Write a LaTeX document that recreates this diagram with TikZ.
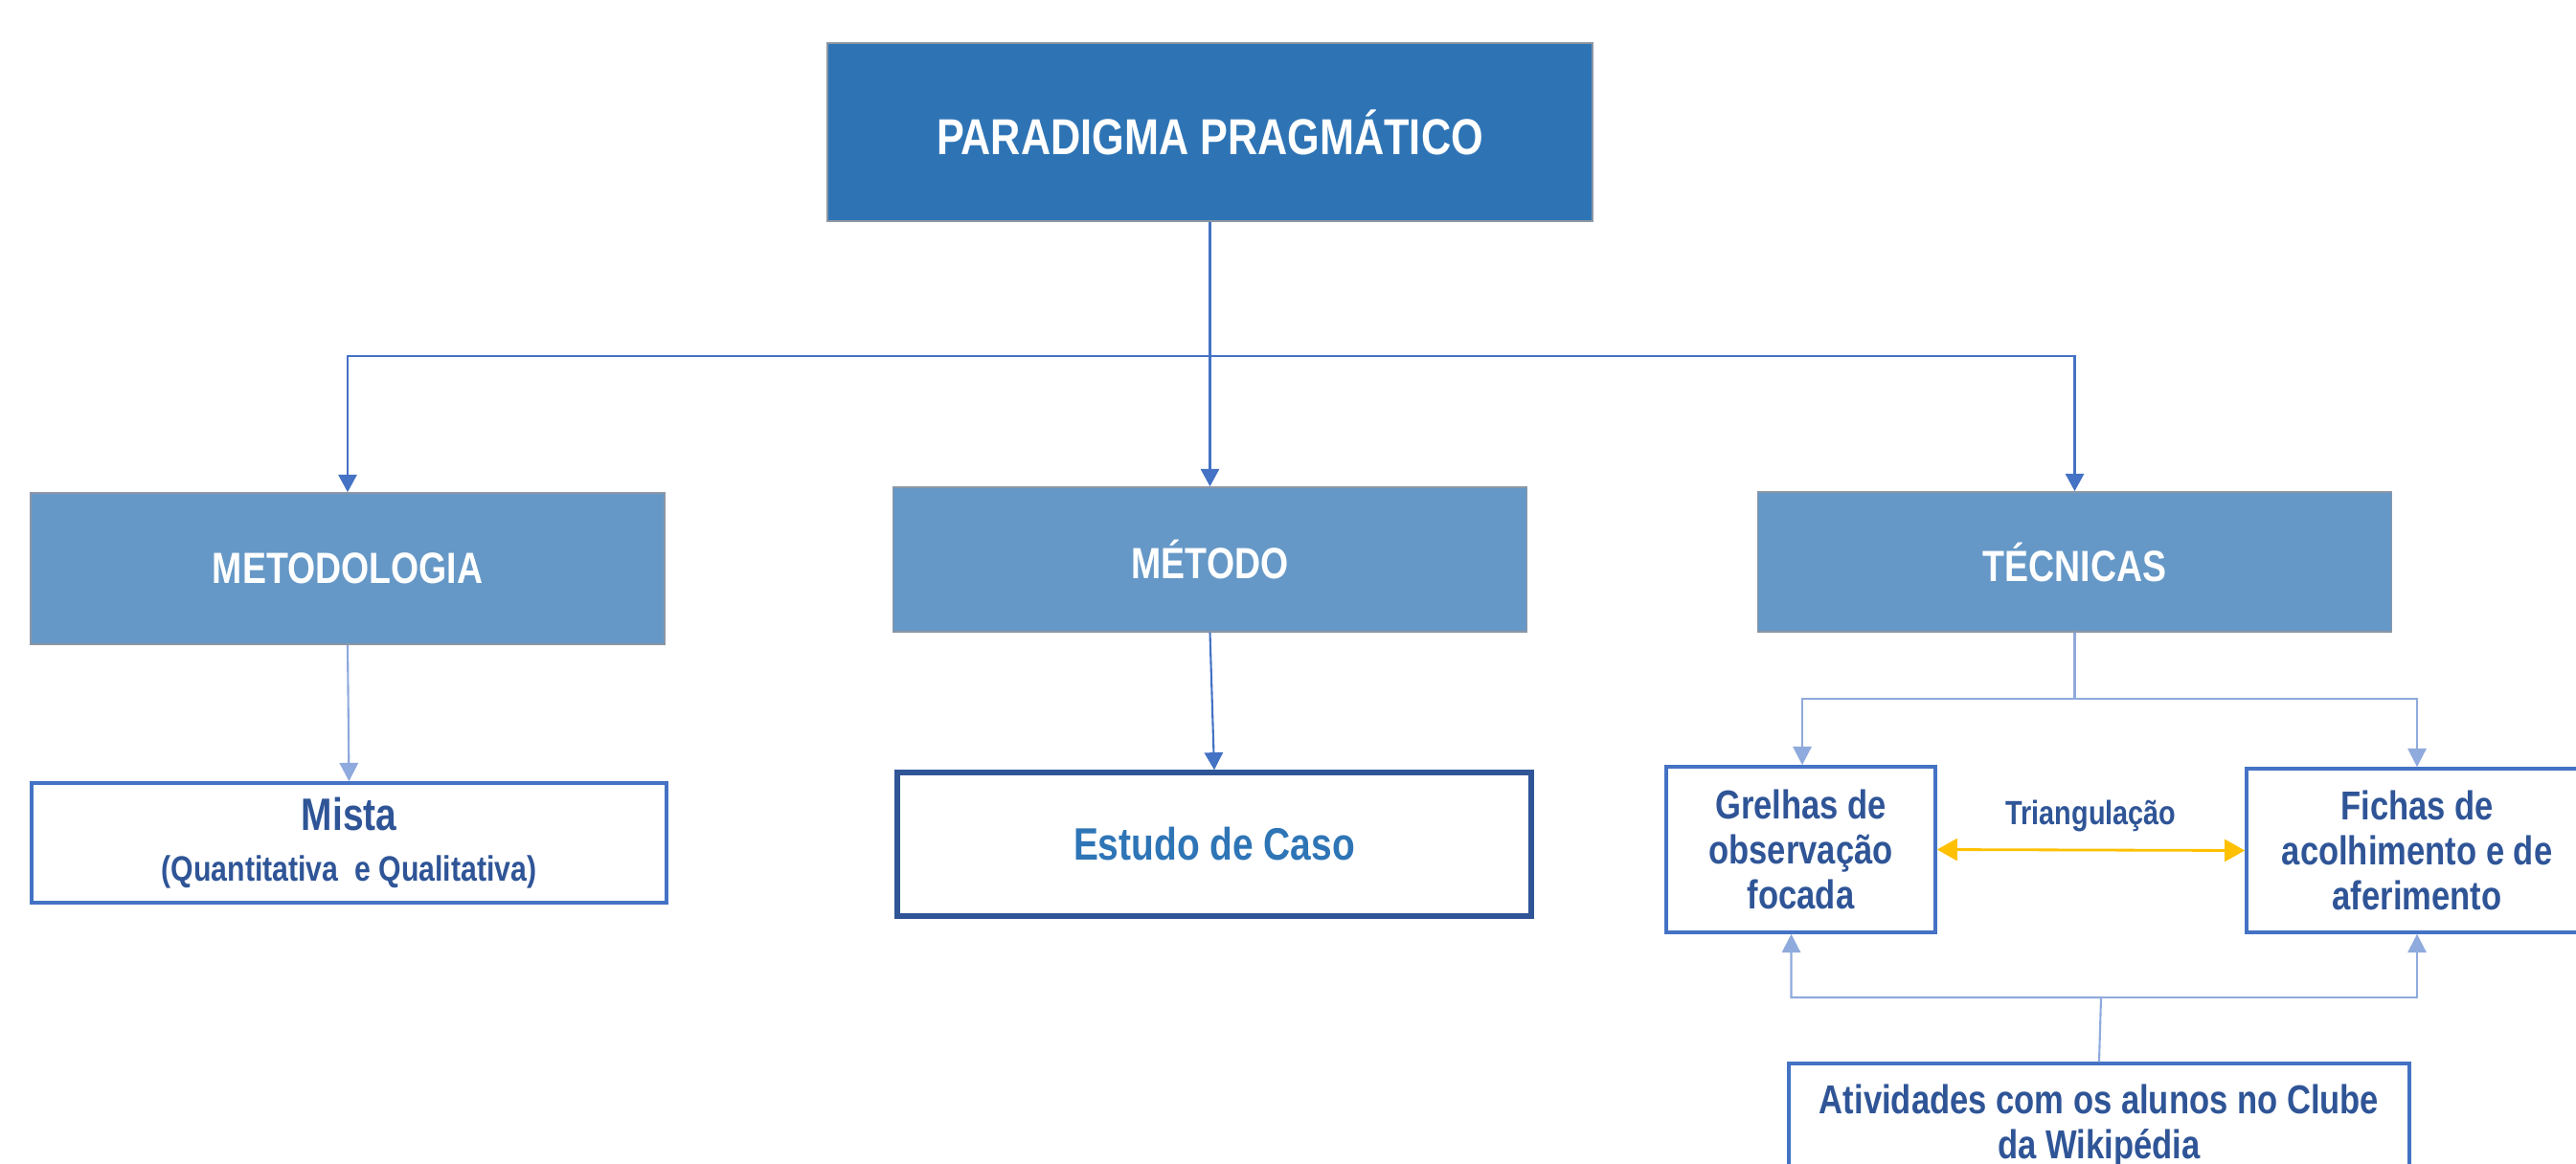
\documentclass[tikz,border=0pt]{standalone}
\usepackage{fontspec}
\setmainfont{Liberation Sans}[FakeStretch=0.82]
\usetikzlibrary{arrows.meta}
\definecolor{topblue}{RGB}{46,116,181}
\definecolor{midblue}{RGB}{101,152,199}
\definecolor{boxline}{RGB}{68,114,196}
\definecolor{darkline}{RGB}{47,85,151}
\definecolor{textblue}{RGB}{47,85,151}
\definecolor{casoblue}{RGB}{46,117,182}
\definecolor{lightline}{RGB}{143,170,220}
\definecolor{gold}{RGB}{255,192,0}
\definecolor{edgegrey}{RGB}{140,150,165}

\begin{document}
\begin{tikzpicture}[
	headbox/.style={draw=edgegrey, line width=0.5pt, fill=topblue, text=white, inner sep=0pt,
		font=\fontsize{15}{18}\selectfont\bfseries},
	levelbox/.style={draw=edgegrey, line width=0.5pt, fill=midblue, text=white, inner sep=0pt,
		minimum width=6.62cm, font=\fontsize{13}{16}\selectfont\bfseries},
	leafbox/.style={draw=boxline, line width=1pt, fill=white, text=textblue, align=center, inner sep=0pt,
		font=\fontsize{12}{13.4}\selectfont\bfseries},
	link/.style={draw=boxline, line width=0.6pt, -{Triangle[width=5.5pt,length=5.2pt]}},
	lightlink/.style={draw=lightline, line width=0.6pt, -{Triangle[width=5.5pt,length=5.5pt]}},
	triarrow/.style={draw=gold, line width=0.8pt, {Triangle[width=6.5pt,length=6pt]}-{Triangle[width=6.5pt,length=6pt]}}
	]
	%%%%% START %%%%%
	\useasboundingbox (0,0) rectangle (26.9,-12.15);
	
	\node[headbox, minimum width=7.99cm, minimum height=1.86cm] (paradigma) at (12.635, -1.38) {PARADIGMA PRAGMÁTICO};
	
	\node[levelbox, minimum height=1.58cm] (metodologia) at (3.63, -5.94) {METODOLOGIA};
	\node[levelbox, minimum height=1.51cm] (metodo) at (12.635, -5.845) {MÉTODO};
	\node[levelbox, minimum height=1.46cm] (tecnicas) at (21.665, -5.87) {TÉCNICAS};
	
	\node[leafbox, minimum width=6.63cm, minimum height=1.25cm] (mista) at (3.645, -8.805)
		{{\fontsize{13.5}{15}\selectfont Mista}\\[1.5pt]{\fontsize{10.5}{13}\selectfont (Quantitativa\ \ e Qualitativa)}};
	\node[leafbox, draw=darkline, line width=1.5pt, text=casoblue, minimum width=6.62cm, minimum height=1.5cm,
		font=\fontsize{13.5}{16}\selectfont\bfseries] (estudo) at (12.68, -8.82) {Estudo de Caso};
	
	\node[leafbox, minimum width=2.81cm, minimum height=1.73cm] (grelhas) at (18.805, -8.875)
		{Grelhas de\\observação\\focada};
	\node[leafbox, minimum width=3.56cm, minimum height=1.71cm] (fichas) at (25.24, -8.885)
		{Fichas de\\acolhimento e de\\aferimento};
	\node[leafbox, minimum width=6.48cm, minimum height=1.3cm] (atividades) at (21.92, -11.76)
		{Atividades com os alunos no Clube\\da Wikipédia};
	
	% connectors
	\coordinate (split) at (12.635, -3.72);
	\draw[link] (paradigma.south) -- (split) -| (metodologia.north);
	\draw[link] (split) -- (metodo.north);
	\draw[link] (split) -| (tecnicas.north);
	
	\draw[lightlink] (metodologia.south) -- (mista.north);
	\draw[link] (metodo.south) -- (estudo.north);
	
	\coordinate (tsplit) at (21.665, -7.30);
	\draw[lightlink] (tecnicas.south) -- (tsplit) -| ([xshift=0.15mm]grelhas.north);
	\draw[lightlink] (tsplit) -| (fichas.north);
	
	\coordinate (asplit) at (21.94, -10.42);
	\draw[lightlink] (atividades.north) -- (asplit) -| ([xshift=-1mm]grelhas.south);
	\draw[lightlink] (asplit) -| (fichas.south);
	
	\draw[triarrow] (grelhas.east) -- (fichas.west)
		node[midway, above=0.6mm, text=textblue, font=\fontsize{10}{12}\selectfont\bfseries] (triang) {Triangulação};
	%%%%% END %%%%%
\end{tikzpicture}
\end{document}
